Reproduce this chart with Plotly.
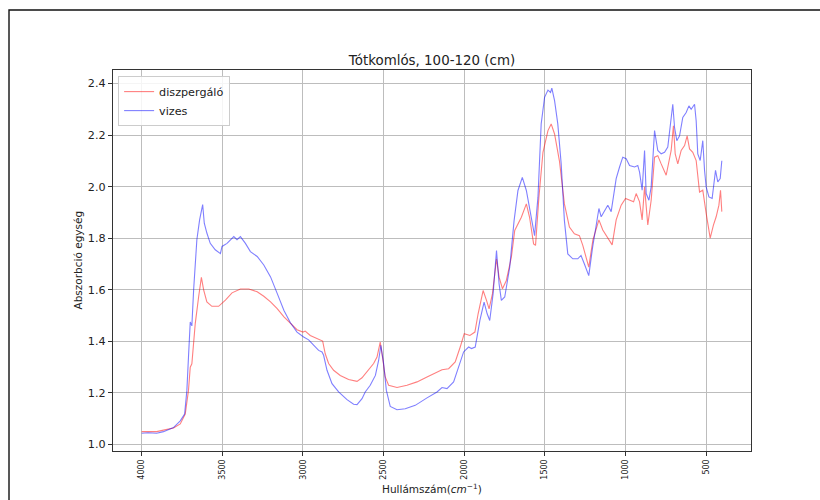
import plotly.graph_objects as go

# FTIR spectra, Tótkomlós 100-120 cm sample
wn_vizes = [4000, 3960, 3907, 3865, 3803, 3761, 3734, 3720, 3710, 3699, 3689, 3678, 3658, 3641,
            3622, 3612, 3596, 3575, 3544, 3512, 3502, 3471, 3429, 3409, 3388, 3357, 3326, 3284,
            3243, 3201, 3160, 3118, 3078, 3037, 2996, 2965, 2934, 2903, 2882, 2872, 2851, 2820,
            2779, 2727, 2686, 2665, 2634, 2614, 2583, 2551, 2531, 2517, 2500, 2483, 2459, 2417,
            2366, 2304, 2231, 2169, 2138, 2107, 2066, 2035, 2004, 1973, 1955, 1932, 1903, 1877,
            1858, 1842, 1821, 1800, 1784, 1770, 1749, 1718, 1691, 1667, 1640, 1615, 1584, 1564,
            1543, 1523, 1502, 1481, 1465, 1457, 1440, 1420, 1399, 1379, 1358, 1327, 1296, 1276,
            1255, 1228, 1204, 1183, 1165, 1151, 1130, 1110, 1089, 1058, 1037, 1017, 996, 975,
            944, 924, 913, 897, 882, 872, 855, 841, 820, 800, 779, 758, 738, 721, 707, 696, 682,
            665, 645, 624, 607, 593, 572, 562, 552, 537, 521, 510, 500, 483, 463, 442, 428, 413,
            403]
abs_vizes = [1.044, 1.046, 1.044, 1.050, 1.066, 1.092, 1.118, 1.209, 1.339, 1.475, 1.460, 1.600,
             1.794, 1.871, 1.930, 1.858, 1.820, 1.780, 1.755, 1.740, 1.768, 1.780, 1.806, 1.794,
             1.806, 1.780, 1.748, 1.729, 1.696, 1.650, 1.586, 1.520, 1.472, 1.436, 1.417, 1.406,
             1.385, 1.365, 1.359, 1.346, 1.288, 1.236, 1.204, 1.174, 1.156, 1.155, 1.178, 1.204,
             1.230, 1.268, 1.326, 1.385, 1.314, 1.210, 1.148, 1.135, 1.139, 1.152, 1.181, 1.204,
             1.221, 1.217, 1.243, 1.300, 1.359, 1.378, 1.372, 1.378, 1.481, 1.552, 1.507, 1.481,
             1.585, 1.752, 1.623, 1.559, 1.572, 1.688, 1.868, 1.985, 2.036, 1.985, 1.868, 1.810,
             1.959, 2.243, 2.346, 2.374, 2.365, 2.382, 2.333, 2.243, 2.088, 1.868, 1.739, 1.720,
             1.720, 1.733, 1.700, 1.655, 1.765, 1.843, 1.915, 1.883, 1.909, 1.928, 1.903, 2.031,
             2.076, 2.114, 2.108, 2.082, 2.076, 2.082, 2.056, 1.986, 2.140, 1.973, 1.947, 1.999,
             2.217, 2.140, 2.127, 2.133, 2.153, 2.249, 2.319, 2.229, 2.178, 2.197, 2.268, 2.287,
             2.313, 2.300, 2.319, 2.255, 2.127, 2.101, 2.178, 2.063, 1.999, 1.960, 1.954, 2.063,
             2.018, 2.031, 2.100]

wn_diszp = [4000, 3960, 3907, 3865, 3803, 3761, 3730, 3710, 3699, 3689, 3668, 3647, 3630, 3616,
            3596, 3565, 3523, 3481, 3440, 3388, 3336, 3284, 3243, 3201, 3160, 3118, 3077, 3037,
            3000, 2986, 2955, 2913, 2878, 2862, 2841, 2810, 2769, 2717, 2665, 2634, 2593, 2562,
            2541, 2521, 2504, 2490, 2469, 2417, 2355, 2293, 2231, 2190, 2138, 2097, 2056, 2025,
            2000, 1965, 1934, 1914, 1883, 1862, 1846, 1825, 1800, 1784, 1763, 1739, 1708, 1687,
            1646, 1615, 1595, 1570, 1558, 1537, 1512, 1481, 1461, 1440, 1410, 1379, 1348, 1317,
            1286, 1265, 1228, 1202, 1165, 1141, 1110, 1083, 1058, 1027, 1000, 975, 950, 934, 913,
            897, 882, 862, 841, 820, 800, 779, 748, 717, 703, 692, 676, 655, 634, 618, 603, 583,
            562, 541, 521, 500, 483, 475, 455, 438, 421, 411, 403]
abs_diszp = [1.050, 1.050, 1.050, 1.056, 1.064, 1.080, 1.118, 1.210, 1.300, 1.313, 1.469, 1.573,
             1.648, 1.600, 1.553, 1.536, 1.536, 1.560, 1.588, 1.603, 1.603, 1.592, 1.575, 1.553,
             1.527, 1.495, 1.469, 1.445, 1.436, 1.440, 1.423, 1.410, 1.401, 1.352, 1.314, 1.288,
             1.268, 1.252, 1.245, 1.259, 1.288, 1.314, 1.339, 1.397, 1.326, 1.262, 1.230, 1.221,
             1.230, 1.243, 1.262, 1.275, 1.290, 1.294, 1.320, 1.378, 1.430, 1.423, 1.436, 1.507,
             1.597, 1.559, 1.526, 1.585, 1.720, 1.649, 1.604, 1.636, 1.726, 1.830, 1.881, 1.933,
             1.881, 1.778, 1.772, 1.959, 2.133, 2.217, 2.243, 2.204, 2.100, 1.933, 1.843, 1.817,
             1.810, 1.772, 1.688, 1.794, 1.871, 1.832, 1.800, 1.774, 1.871, 1.928, 1.954, 1.947,
             1.941, 1.973, 1.941, 1.871, 1.999, 1.851, 1.947, 2.114, 2.120, 2.088, 2.044, 2.140,
             2.236, 2.127, 2.088, 2.140, 2.159, 2.197, 2.146, 2.133, 2.101, 1.979, 1.986, 1.896,
             1.832, 1.800, 1.851, 1.883, 1.928, 1.986, 1.903]

x_ticks = [4000, 3500, 3000, 2500, 2000, 1500, 1000, 500]
y_ticks = [1.0, 1.2, 1.4, 1.6, 1.8, 2.0, 2.2, 2.4]

FONT = "DejaVu Sans"

fig = go.Figure()
fig.add_trace(go.Scatter(x=wn_diszp, y=abs_diszp, mode="lines", name="diszpergáló",
                         line=dict(color="rgba(255,0,0,0.5)", width=1.1)))
fig.add_trace(go.Scatter(x=wn_vizes, y=abs_vizes, mode="lines", name="vizes",
                         line=dict(color="rgba(0,0,255,0.5)", width=1.1)))

axis_common = dict(showline=True, mirror=True, linecolor="#333333", linewidth=1.2,
                   showgrid=True, gridcolor="#bdbdbd", gridwidth=1, zeroline=False,
                   ticks="outside", ticklen=4, tickcolor="#333333", tickwidth=1)

fig.update_xaxes(range=[4178, 222], tickvals=x_ticks, ticktext=[str(v) for v in x_ticks],
                 tickangle=-90, tickfont=dict(family=FONT, size=8, color="#222222"),
                 **axis_common)
fig.update_yaxes(range=[0.975, 2.452], tickvals=y_ticks,
                 ticktext=[f"{v:.1f}" for v in y_ticks],
                 tickfont=dict(family=FONT, size=11.2, color="#222222"), **axis_common)

fig.update_layout(
    width=820, height=500,
    margin=dict(l=113, r=69, t=70, b=49),
    paper_bgcolor="white", plot_bgcolor="white",
    font=dict(family=FONT, color="#222222"),
    title=dict(text="Tótkomlós, 100-120 (cm)", x=0.5, xref="paper", xanchor="center",
               y=1 - 60 / 500, yref="container", yanchor="middle",
               font=dict(family=FONT, size=13.4, color="#222222")),
    legend=dict(x=0.008, y=0.984, xanchor="left", yanchor="top",
                bgcolor="rgba(255,255,255,0.85)", bordercolor="#cccccc", borderwidth=1,
                font=dict(family=FONT, size=11.2, color="#222222"), itemwidth=30),
    annotations=[
        dict(text="Abszorbció egység", xref="paper", yref="paper", x=-0.0564, y=0.5,
             xanchor="center", yanchor="middle", textangle=-90, showarrow=False,
             font=dict(family=FONT, size=10.5, color="#222222")),
        dict(text="Hullámszám(<i>cm</i><sup>−1</sup>)", xref="paper", yref="paper",
             x=0.5, y=-0.0997, xanchor="center", yanchor="middle", showarrow=False,
             font=dict(family=FONT, size=10.5, color="#222222")),
    ],
    shapes=[
        # outer frame around the figure
        dict(type="rect", xref="paper", yref="paper", x0=-0.163, x1=1.25, y0=-0.25, y1=1.1575,
             line=dict(color="#111111", width=1.4), layer="above"),
    ],
)

fig.write_html("out.html")
